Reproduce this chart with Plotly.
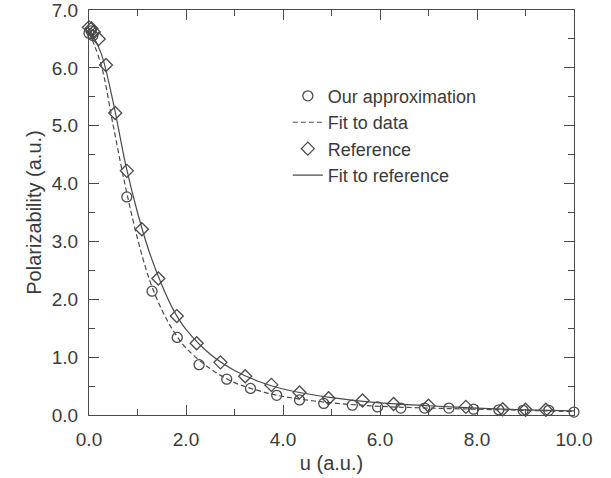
import plotly.graph_objects as go

# Data
our_u = [0.0, 0.04, 0.08, 0.78, 1.30, 1.82, 2.27, 2.84, 3.33, 3.87, 4.34, 4.84,
         5.43, 5.95, 6.43, 6.92, 7.42, 7.93, 8.45, 8.95, 9.48, 10.0]
our_v = [6.60, 6.64, 6.56, 3.77, 2.14, 1.34, 0.87, 0.62, 0.46, 0.34, 0.26, 0.20,
         0.17, 0.14, 0.12, 0.12, 0.12, 0.10, 0.09, 0.08, 0.08, 0.05]

ref_u = [0.0, 0.05, 0.10, 0.20, 0.35, 0.54, 0.78, 1.09, 1.43, 1.81, 2.22, 2.71,
         3.22, 3.76, 4.34, 4.94, 5.64, 6.28, 7.00, 7.77, 8.53, 9.00, 9.42]
ref_v = [6.70, 6.68, 6.62, 6.50, 6.05, 5.22, 4.22, 3.21, 2.36, 1.71, 1.24, 0.91,
         0.67, 0.52, 0.39, 0.29, 0.25, 0.19, 0.16, 0.14, 0.10, 0.09, 0.09]

fit_u = [0.0, 0.25, 0.5, 0.75, 1.0, 1.25, 1.5, 1.75, 2.0, 2.5, 3.0, 3.5, 4.0,
         5.0, 6.0, 7.0, 8.0, 9.0, 10.0]
fit_data_v = [6.62, 6.05, 5.00, 3.95, 3.05, 2.33, 1.82, 1.44, 1.16, 0.80, 0.56,
              0.42, 0.32, 0.21, 0.15, 0.12, 0.10, 0.08, 0.06]
fit_ref_v = [6.68, 6.25, 5.40, 4.35, 3.50, 2.80, 2.25, 1.80, 1.48, 1.05, 0.77,
             0.58, 0.45, 0.30, 0.21, 0.16, 0.12, 0.09, 0.07]

x_ticks = [0, 2, 4, 6, 8, 10]
y_ticks = [0, 1, 2, 3, 4, 5, 6, 7]

GREY = "#4a4a4a"
TXT = "#3a3a3a"
FONT = "Liberation Sans, Arial, Helvetica, sans-serif"

fig = go.Figure()
fig.add_trace(go.Scatter(
    x=our_u, y=our_v, mode="markers", name="Our approximation",
    marker=dict(symbol="circle-open", size=10, color=GREY, line=dict(width=1.3)),
    cliponaxis=False))
fig.add_trace(go.Scatter(
    x=fit_u, y=fit_data_v, mode="lines", name="Fit to data",
    line=dict(color=GREY, width=1.2, dash="5px,3px", shape="spline")))
fig.add_trace(go.Scatter(
    x=ref_u, y=ref_v, mode="markers", name="Reference",
    marker=dict(symbol="diamond-open", size=10, color=GREY, line=dict(width=1.3)),
    cliponaxis=False))
fig.add_trace(go.Scatter(
    x=fit_u, y=fit_ref_v, mode="lines", name="Fit to reference",
    line=dict(color=GREY, width=1.2, shape="spline")))

axis_common = dict(
    showline=True, linecolor=GREY, linewidth=1.3, mirror="ticks",
    ticks="inside", ticklen=10, tickcolor=GREY, tickwidth=1.3,
    showgrid=False, zeroline=False, tickformat=".1f", automargin=False,
    ticklabeloverflow="allow",
    tickfont=dict(family=FONT, size=19, color=TXT),
)

fig.update_xaxes(
    range=[0, 10], tickvals=x_ticks, ticklabelstandoff=7,
    minor=dict(ticks="inside", ticklen=6, dtick=1, tickcolor=GREY, tickwidth=1.3),
    title=dict(text="u (a.u.)", font=dict(family=FONT, size=20, color=TXT), standoff=7),
    **axis_common)
fig.update_yaxes(
    range=[0, 7], tickvals=y_ticks, ticklabelstandoff=6,
    minor=dict(ticks="inside", ticklen=6, dtick=0.5, tickcolor=GREY, tickwidth=1.3),
    title=dict(text="Polarizability (a.u.)", font=dict(family=FONT, size=20, color=TXT), standoff=4),
    **axis_common)

fig.update_layout(
    width=611, height=478,
    margin=dict(l=89, r=37, t=10, b=63),
    paper_bgcolor="white", plot_bgcolor="white",
    font=dict(family=FONT, color=TXT),
    legend=dict(x=0.41, y=0.833, xanchor="left", yanchor="top",
                bgcolor="rgba(0,0,0,0)", itemwidth=30,
                font=dict(family=FONT, size=18, color=TXT),
                tracegroupgap=0),
)

fig.write_html("out.html")
